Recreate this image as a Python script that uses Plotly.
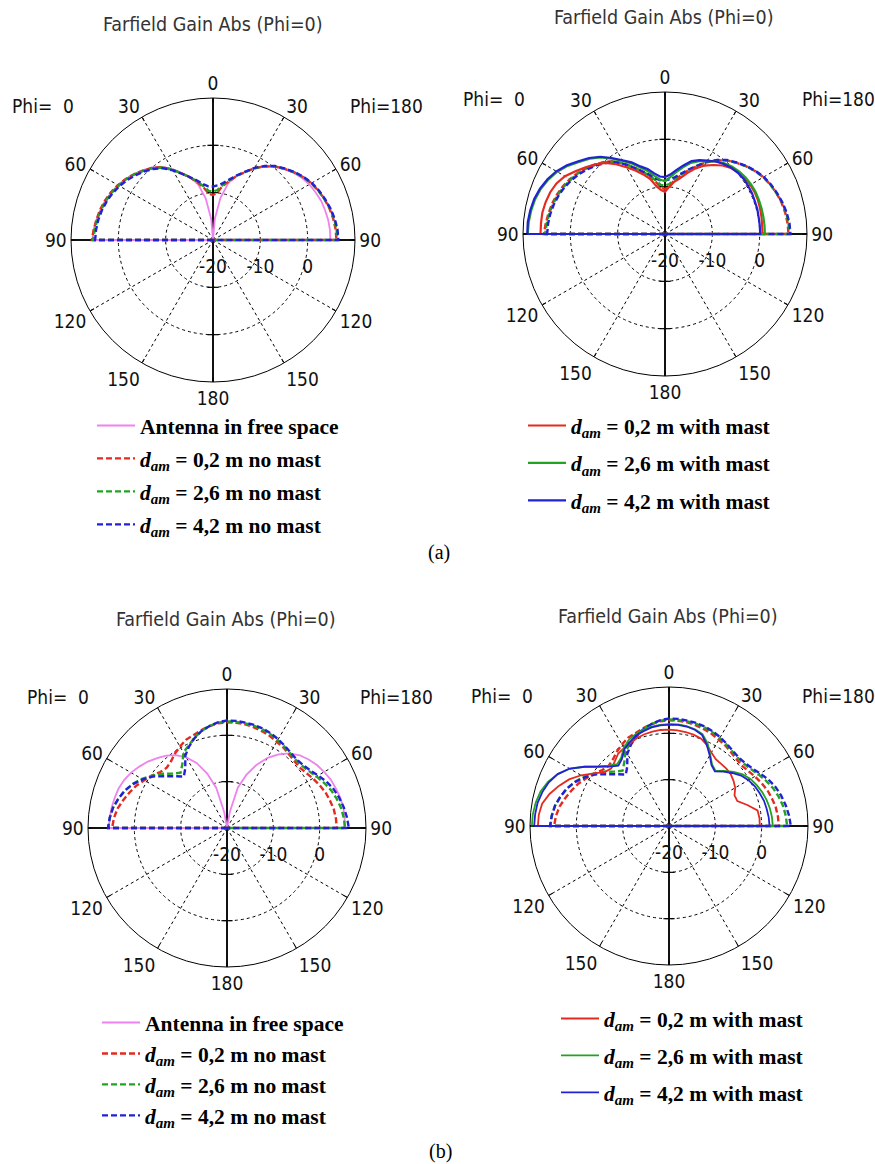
import plotly.graph_objects as go

# Elevation angle theta (deg) measured from the zenith, 0..90 in 5-degree steps
THETA = [0, 5, 10, 15, 20, 25, 30, 35, 40, 45, 50, 55, 60, 65, 70, 75, 80, 85, 90]

# ---------------- (a) farfield gain, dBi ----------------
A_FREE_PHI0 = [-20, -15.5, -11.0, -7.8, -5.9, -4.4, -2.7, -1.1, 0.0, 0.9, 1.7, 2.5, 3.2, 3.7, 4.2, 4.6, 5.0, 5.3, 5.5]
A_FREE_PHI180 = [-20, -15.5, -11.0, -7.6, -5.6, -4.2, -2.5, -1.0, 0.2, 1.2, 2.1, 2.9, 3.5, 3.9, 4.3, 4.5, 4.7, 4.8, 4.8]

A_NM02_PHI0 = [-10.5, -10.2, -8.8, -7.4, -6.0, -4.5, -2.8, -1.2, -0.1, 0.8, 1.7, 2.5, 3.2, 3.8, 4.3, 4.7, 5.0, 5.3, 5.6]
A_NM26_PHI0 = [-9.8, -9.6, -8.5, -7.2, -5.9, -4.5, -2.9, -1.3, -0.2, 0.7, 1.6, 2.4, 3.0, 3.6, 4.1, 4.5, 4.8, 5.1, 5.3]
A_NM42_PHI0 = [-8.7, -8.6, -8.0, -7.0, -5.9, -4.6, -3.0, -1.5, -0.4, 0.5, 1.3, 2.1, 2.8, 3.4, 3.9, 4.3, 4.6, 4.8, 4.9]
A_NM02_PHI180 = [-10.5, -10.0, -8.4, -7.2, -5.7, -4.2, -2.5, -1.0, 0.3, 1.3, 2.3, 3.2, 4.0, 4.6, 5.1, 5.5, 5.8, 6.0, 6.1]
A_NM26_PHI180 = [-9.8, -9.4, -8.2, -7.0, -5.6, -4.2, -2.5, -1.0, 0.3, 1.3, 2.3, 3.2, 4.0, 4.6, 5.1, 5.6, 6.0, 6.2, 6.3]
A_NM42_PHI180 = [-8.7, -8.4, -7.8, -6.8, -5.5, -4.1, -2.4, -0.9, 0.4, 1.4, 2.4, 3.3, 4.1, 4.7, 5.2, 5.7, 6.1, 6.4, 6.5]

A_WM02_PHI0 = [-11.1, -10.7, -9.8, -8.0, -6.6, -5.2, -3.7, -2.0, -0.4, 0.8, 1.9, 3.1, 4.4, 5.3, 5.8, 6.1, 6.3, 6.3, 6.3]
A_WM26_PHI0 = [-8.8, -8.5, -7.6, -6.3, -5.1, -3.6, -2.2, -0.6, 1.1, 2.5, 3.7, 5.1, 6.3, 7.2, 7.9, 8.4, 8.7, 8.9, 9.0]
A_WM42_PHI0 = [-8.0, -7.8, -7.0, -5.8, -4.8, -3.3, -2.0, -0.4, 1.3, 2.7, 3.9, 5.3, 6.5, 7.4, 8.1, 8.6, 8.9, 9.1, 9.1]
A_WM02_PHI180 = [-11.1, -10.0, -8.8, -7.8, -6.3, -4.7, -3.3, -2.2, -1.1, -0.3, 0.2, 0.5, 0.8, 0.9, 0.9, 0.8, 0.7, 0.6, 0.6]
A_WM26_PHI180 = [-8.8, -8.0, -6.8, -5.4, -4.0, -3.0, -2.2, -1.3, -0.5, 0.1, 0.5, 0.8, 1.0, 1.1, 1.1, 1.1, 1.1, 1.1, 1.1]
A_WM42_PHI180 = [-8.0, -7.4, -6.3, -5.0, -3.6, -2.8, -2.1, -1.3, -0.7, -0.2, 0.1, 0.3, 0.3, 0.3, 0.2, 0.2, 0.1, 0.1, 0.1]

# ---------------- (b) farfield gain, dBi ----------------
B_FREE_PHI0 = [-20, -20, -16.5, -11.0, -7.5, -4.5, -2.4, -0.8, 0.4, 1.3, 2.3, 3.1, 3.9, 4.5, 4.9, 5.1, 5.3, 5.4, 5.5]
B_FREE_PHI180 = [-20, -20, -16.5, -11.0, -7.8, -5.0, -2.5, -0.6, 1.0, 2.2, 3.0, 3.7, 4.2, 4.7, 5.0, 5.3, 5.5, 5.5, 5.3]

B_NM02_PHI0 = [2.8, 2.7, 2.3, 1.8, 1.3, 1.0, 0.3, -0.4, -1.2, -1.6, -1.2, -0.3, 0.6, 1.6, 2.4, 3.2, 4.0, 4.5, 4.8]
B_NM26_PHI0 = [3.0, 2.8, 2.3, 1.6, 0.7, -0.4, -1.2, -3.2, -4.4, -3.4, -1.8, -0.3, 1.2, 2.5, 3.5, 4.3, 5.0, 5.4, 5.6]
B_NM42_PHI0 = [3.2, 2.9, 2.3, 1.6, 0.6, -0.6, -2.0, -4.3, -5.5, -4.2, -2.6, -0.6, 1.0, 2.4, 3.5, 4.3, 5.0, 5.4, 5.7]
B_NM02_PHI180 = [2.8, 2.8, 2.7, 2.5, 2.2, 1.9, 1.5, 1.2, 0.8, 0.5, 0.4, 0.8, 1.4, 2.0, 2.6, 3.0, 3.4, 3.6, 3.7]
B_NM26_PHI180 = [3.0, 3.0, 2.9, 2.8, 2.6, 2.3, 1.9, 1.5, 1.1, 0.9, 1.0, 1.5, 2.3, 3.1, 3.9, 4.5, 5.0, 5.3, 5.5]
B_NM42_PHI180 = [3.2, 3.2, 3.1, 3.0, 2.8, 2.5, 2.1, 1.7, 1.3, 1.1, 1.3, 1.8, 2.7, 3.7, 4.5, 5.1, 5.6, 6.0, 6.3]

B_WM02_PHI0 = [0.8, 0.8, 0.7, 0.5, 0.2, -0.3, -0.6, -0.9, -1.8, -2.4, -1.9, -0.2, 1.9, 3.8, 5.3, 6.7, 7.8, 8.2, 8.3]
B_WM26_PHI0 = [2.0, 1.9, 1.8, 1.5, 1.1, 0.5, -0.5, -2.0, -2.6, -1.6, 0.0, 2.3, 4.7, 6.5, 7.8, 8.7, 9.2, 9.5, 9.6]
B_WM42_PHI0 = [1.9, 1.8, 1.6, 1.2, 0.8, 0.0, -0.8, -2.3, -3.0, -1.9, -0.1, 2.3, 4.8, 6.5, 7.6, 8.3, 8.8, 9.0, 9.1]
B_WM02_PHI180 = [0.8, 0.7, 0.6, 0.4, 0.1, -0.7, -1.7, -2.4, -2.5, -2.5, -2.6, -3.0, -3.5, -4.4, -4.3, -2.5, -0.6, -0.4, -0.4]
B_WM26_PHI180 = [2.0, 2.0, 1.9, 1.6, 1.1, -0.3, -2.2, -3.8, -4.4, -3.2, -1.8, -0.6, 0.3, 0.9, 1.4, 1.8, 2.1, 2.3, 2.4]
B_WM42_PHI180 = [1.9, 1.9, 1.8, 1.5, 0.9, -0.7, -2.4, -4.0, -4.6, -3.4, -2.2, -1.0, -0.2, 0.4, 0.8, 1.2, 1.4, 1.6, 1.7]

# Radial scale of every plot (dBi): centre and outer circle
R_MIN, R_MAX = -20, 10
RADIAL_TICKS = [-20, -10, 0]
ANGLE_TICKS = list(range(0, 360, 30))
ANGLE_LABELS = ["0", "30", "60", "90", "120", "150", "180", "150", "120", "90", "60", "30"]

PINK = "#ee82ee"
RED = "#e52a1f"
GREEN = "#22a322"
BLUE = "#2222d4"

LBL_FREE = "<b>Antenna in free space</b>"
DAM = "<b><i>d</i><sub><i>am</i></sub></b>"
LBL_NM = [DAM + "<b> = %s m no mast</b>" % d for d in ("0,2", "2,6", "4,2")]
LBL_WM = [DAM + "<b> = %s m with mast</b>" % d for d in ("0,2", "2,6", "4,2")]


def pattern(phi0, phi180):
    """Closed cut: Phi=0 half on the left, Phi=180 half on the right,
    both dropping to the centre along the horizon (below -20 dBi)."""
    left = [max(v, R_MIN) for v in phi0]
    right = [max(v, R_MIN) for v in phi180]
    theta = [270] + [360 - t for t in reversed(THETA)] + THETA[1:] + [90]
    r = [R_MIN] + left[::-1] + right[1:] + [R_MIN]
    return r, theta


fig = go.Figure()


def add_axes_cross(sp):
    # solid vertical and horizontal axes through the centre
    fig.add_trace(go.Scatterpolar(r=[R_MAX, R_MIN, R_MAX], theta=[0, 0, 180], mode="lines",
                                  line=dict(color="#111", width=2), subplot=sp,
                                  showlegend=False, hoverinfo="skip"))
    fig.add_trace(go.Scatterpolar(r=[R_MAX, R_MIN, R_MAX], theta=[90, 90, 270], mode="lines",
                                  line=dict(color="#111", width=2), subplot=sp,
                                  showlegend=False, hoverinfo="skip"))
    fig.add_trace(go.Scatterpolar(r=[-10, 0, -10, 0], theta=[0, 0, 180, 180], mode="markers",
                                  marker=dict(symbol="line-ew", size=8,
                                              line=dict(color="black", width=1.2)),
                                  subplot=sp, showlegend=False, hoverinfo="skip"))


def add_curve(sp, phi0, phi180, color, dash, width, name, legend, show):
    r, th = pattern(phi0, phi180)
    fig.add_trace(go.Scatterpolar(r=r, theta=th, mode="lines", name=name,
                                  line=dict(color=color, dash=dash, width=width),
                                  subplot=sp, legend=legend, legendgroup=legend + name,
                                  showlegend=show))


DASH = "6px,3px"

for sp in ("polar", "polar2", "polar3", "polar4"):
    add_axes_cross(sp)

# (a) left: free space and no mast
add_curve("polar", A_FREE_PHI0, A_FREE_PHI180, PINK, "solid", 1.8, LBL_FREE, "legend", True)
add_curve("polar", A_NM02_PHI0, A_NM02_PHI180, RED, DASH, 2.4, LBL_NM[0], "legend", True)
add_curve("polar", A_NM26_PHI0, A_NM26_PHI180, GREEN, DASH, 2.4, LBL_NM[1], "legend", True)
add_curve("polar", A_NM42_PHI0, A_NM42_PHI180, BLUE, DASH, 2.4, LBL_NM[2], "legend", True)

# (a) right: no mast (reference) and with mast
add_curve("polar2", A_NM02_PHI0, A_NM02_PHI180, RED, DASH, 2.4, "nm02", "legend2", False)
add_curve("polar2", A_NM26_PHI0, A_NM26_PHI180, GREEN, DASH, 2.4, "nm26", "legend2", False)
add_curve("polar2", A_NM42_PHI0, A_NM42_PHI180, BLUE, DASH, 2.4, "nm42", "legend2", False)
add_curve("polar2", A_WM02_PHI0, A_WM02_PHI180, RED, "solid", 2.2, LBL_WM[0], "legend2", True)
add_curve("polar2", A_WM26_PHI0, A_WM26_PHI180, GREEN, "solid", 2.2, LBL_WM[1], "legend2", True)
add_curve("polar2", A_WM42_PHI0, A_WM42_PHI180, BLUE, "solid", 2.2, LBL_WM[2], "legend2", True)

# (b) left
add_curve("polar3", B_FREE_PHI0, B_FREE_PHI180, PINK, "solid", 1.8, LBL_FREE, "legend3", True)
add_curve("polar3", B_NM02_PHI0, B_NM02_PHI180, RED, DASH, 2.4, LBL_NM[0], "legend3", True)
add_curve("polar3", B_NM26_PHI0, B_NM26_PHI180, GREEN, DASH, 2.4, LBL_NM[1], "legend3", True)
add_curve("polar3", B_NM42_PHI0, B_NM42_PHI180, BLUE, DASH, 2.4, LBL_NM[2], "legend3", True)

# (b) right
add_curve("polar4", B_NM02_PHI0, B_NM02_PHI180, RED, DASH, 2.4, "nm02", "legend4", False)
add_curve("polar4", B_NM26_PHI0, B_NM26_PHI180, GREEN, DASH, 2.4, "nm26", "legend4", False)
add_curve("polar4", B_NM42_PHI0, B_NM42_PHI180, BLUE, DASH, 2.4, "nm42", "legend4", False)
add_curve("polar4", B_WM02_PHI0, B_WM02_PHI180, RED, "solid", 1.8, LBL_WM[0], "legend4", True)
add_curve("polar4", B_WM26_PHI0, B_WM26_PHI180, GREEN, "solid", 1.8, LBL_WM[1], "legend4", True)
add_curve("polar4", B_WM42_PHI0, B_WM42_PHI180, BLUE, "solid", 1.8, LBL_WM[2], "legend4", True)

W, H = 875, 1164
SANS = "DejaVu Sans Condensed, DejaVu Sans, sans-serif"
SERIF = "Liberation Serif, Times New Roman, serif"
TICK_FONT = dict(family=SANS, size=19, color="#111")


def polar_layout(cx, cy, rad):
    return dict(
        domain=dict(x=[(cx - rad) / W, (cx + rad) / W], y=[1 - (cy + rad) / H, 1 - (cy - rad) / H]),
        bgcolor="white",
        angularaxis=dict(rotation=90, direction="clockwise", tickmode="array",
                         tickvals=ANGLE_TICKS, ticktext=ANGLE_LABELS, tickfont=TICK_FONT,
                         showline=True, linecolor="black", linewidth=1,
                         ticks="inside", ticklen=4, tickcolor="black",
                         showgrid=True, gridcolor="black", gridwidth=1, griddash="3px,3px"),
        radialaxis=dict(range=[R_MIN, R_MAX], tickmode="array", tickvals=RADIAL_TICKS,
                        ticktext=[str(v) for v in RADIAL_TICKS], tickfont=TICK_FONT,
                        angle=0, side="clockwise", showline=False,
                        ticks="outside", ticklen=10, tickcolor="rgba(0,0,0,0)",
                        showgrid=True, gridcolor="black", gridwidth=1, griddash="3px,3px"),
    )


def legend_layout(x, y, gap):
    return dict(x=x / W, y=1 - y / H, xanchor="left", yanchor="top",
                font=dict(family=SERIF, size=21.5, color="black"),
                bgcolor="rgba(0,0,0,0)", itemwidth=38, tracegroupgap=gap,
                traceorder="grouped", itemclick=False, itemdoubleclick=False)


def note(text, x, y, size=19, family=SANS, xanchor="center", color="#111"):
    return dict(text=text, x=x / W, y=1 - y / H, xref="paper", yref="paper",
                xanchor=xanchor, yanchor="middle", showarrow=False,
                font=dict(family=family, size=size, color=color))


annotations = [
    note("Farfield Gain Abs (Phi=0)", 213, 24, size=19.5, color="#333"),
    note("Farfield Gain Abs (Phi=0)", 664, 18, size=19.5, color="#333"),
    note("Farfield Gain Abs (Phi=0)", 226, 619, size=19.5, color="#333"),
    note("Farfield Gain Abs (Phi=0)", 668, 616, size=19.5, color="#333"),
    note("Phi=\u00a0\u00a00", 76, 106, xanchor="right"),
    note("Phi=180", 348, 106, xanchor="left"),
    note("Phi=\u00a0\u00a00", 527, 99, xanchor="right"),
    note("Phi=180", 800, 99, xanchor="left"),
    note("Phi=\u00a0\u00a00", 91, 697, xanchor="right"),
    note("Phi=180", 358, 697, xanchor="left"),
    note("Phi=\u00a0\u00a00", 535, 696, xanchor="right"),
    note("Phi=180", 800, 696, xanchor="left"),
    note("(a)", 439, 552, size=20, family=SERIF, color="black"),
    note("(b)", 440, 1151, size=20, family=SERIF, color="black"),
]

fig.update_layout(
    width=W, height=H,
    margin=dict(l=0, r=0, t=0, b=0),
    paper_bgcolor="white",
    plot_bgcolor="white",
    template="none",
    polar=polar_layout(213, 240, 142),
    polar2=polar_layout(665, 234, 142),
    polar3=polar_layout(227, 828, 139),
    polar4=polar_layout(669, 826, 139),
    legend=legend_layout(92, 405, 2),
    legend2=legend_layout(523, 405, 6.5),
    legend3=legend_layout(97, 1002, 0),
    legend4=legend_layout(556, 998, 6),
    annotations=annotations,
    showlegend=True,
)

fig.write_html("out.html")
